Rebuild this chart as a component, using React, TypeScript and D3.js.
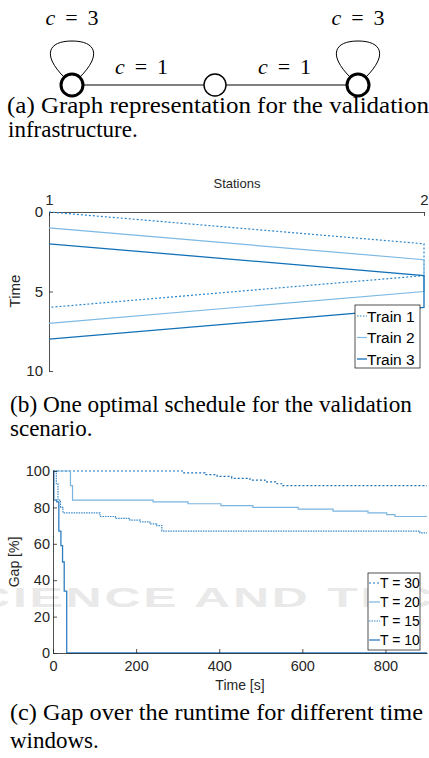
import React, { useEffect, useRef } from "react";
import * as d3 from "d3";

// ---- (a) graph of the validation infrastructure
const graphNodes = ["S1", "M", "S2"];
const graphIsStation = [true, false, true];
const graphEdgeLabels = ["1", "1"];
const loopLabel = "3";

// ---- (b) schedule
const stations = [1, 2];
const timeTicks = [0, 5, 10];
const trainNames = ["Train 1", "Train 2", "Train 3"];
// [station, time]
const train1 = [[1, 0], [2, 2], [2, 4], [1, 6]];
const train2 = [[1, 1], [2, 3], [2, 5], [1, 7]];
const train3 = [[1, 2], [2, 4], [2, 6], [1, 8]];

// ---- (c) gap over runtime
const gapTicksX = [0, 200, 400, 600, 800];
const gapTicksY = [0, 20, 40, 60, 80, 100];
const windowNames = ["T = 30", "T = 20", "T = 15", "T = 10"];
// [time s, gap %] step after
const gapT30 = [[0, 100], [313, 99], [366, 98], [395, 97], [430, 96], [474, 95], [510, 94], [539, 93], [553, 92], [900, 92]];
const gapT20 = [[0, 100], [42, 92], [47, 84], [241, 83], [325, 82], [404, 81], [481, 80], [590, 79], [674, 78], [758, 77], [803, 76], [823, 75], [900, 75]];
const gapT15 = [[0, 100], [8, 93], [12, 84], [18, 80], [24, 77], [113, 75], [150, 74], [185, 73], [210, 72], [233, 71], [250, 70], [262, 67], [883, 66], [900, 66]];
const gapT10 = [[0, 100], [2, 84], [9, 83], [14, 67], [19, 59], [23, 50], [27, 34], [33, 0], [900, 0]];

const AX = "#262626";
const SANS = "'Liberation Sans', Arial, sans-serif";
const SERIF = "'Liberation Serif', 'Times New Roman', serif";

function styleAxis(g, size) {
    g.select(".domain").attr("stroke", AX).attr("stroke-width", 0.8);
    g.selectAll(".tick line").attr("stroke", AX).attr("stroke-width", 0.8);
    g.selectAll(".tick text").attr("fill", AX).attr("font-size", size).attr("font-family", SANS);
}

export default function App() {
    const ref = useRef(null);

    useEffect(() => {
        const svg = d3.select(ref.current);
        svg.selectAll("*").remove();

        svg.append("rect").attr("width", 429).attr("height", 758).attr("fill", "#fff");

        // faint publisher watermark behind chart (c)
        svg.append("text")
            .attr("transform", "translate(-62,607) scale(1.85,1)")
            .attr("letter-spacing", 1.5)
            .attr("font-family", SANS).attr("font-weight", "bold").attr("font-size", 27)
            .attr("fill", "#e9e9e9")
            .text("SCIENCE AND TECHNOLOGY");

        // ================= (a)
        const xa = d3.scalePoint().domain(graphNodes).range([72, 358]);
        const ya = 85;
        const ga = svg.append("g");

        ga.selectAll("line.edge")
            .data(d3.pairs(graphNodes)).enter()
            .append("line")
            .attr("x1", d => xa(d[0])).attr("x2", d => xa(d[1]))
            .attr("y1", ya).attr("y2", ya)
            .attr("stroke", "#000").attr("stroke-width", 1);

        const loops = graphNodes.filter((d, i) => graphIsStation[i]);
        ga.selectAll("path.loop")
            .data(loops).enter()
            .append("path")
            .attr("d", d => {
                const x = xa(d);
                return `M${x - 8},${ya - 8} C${x - 30},${ya - 30} ${x - 24},${ya - 44} ${x},${ya - 44} C${x + 24},${ya - 44} ${x + 30},${ya - 30} ${x + 8},${ya - 8}`;
            })
            .attr("fill", "none").attr("stroke", "#000").attr("stroke-width", 1);

        ga.selectAll("circle")
            .data(graphNodes).enter()
            .append("circle")
            .attr("cx", d => xa(d)).attr("cy", ya).attr("r", 11)
            .attr("fill", "#fff").attr("stroke", "#000")
            .attr("stroke-width", (d, i) => graphIsStation[i] ? 3 : 1.4);

        const cLabel = (x, y, val) => {
            const t = ga.append("text")
                .attr("x", x).attr("y", y)
                .attr("text-anchor", "middle")
                .attr("font-family", SERIF).attr("font-size", 22)
                .attr("textLength", 53).attr("lengthAdjust", "spacing");
            t.append("tspan").attr("font-style", "italic").text("c");
            t.append("tspan").text(" = " + val);
        };
        loops.forEach(d => cLabel(xa(d), 25, loopLabel));
        d3.pairs(graphNodes).forEach((p, i) => cLabel((xa(p[0]) + xa(p[1])) / 2 - 2, 74, graphEdgeLabels[i]));

        const caption = (x, y, s, len) => {
            const t = svg.append("text")
                .attr("x", x).attr("y", y)
                .attr("font-family", SERIF).attr("font-size", 23).attr("fill", "#000")
                .text(s);
            if (len) t.attr("textLength", len).attr("lengthAdjust", "spacingAndGlyphs");
        };
        caption(7, 113, "(a) Graph representation for the validation", 422);
        caption(8, 137, "infrastructure.");

        // ================= (b)
        const xb = d3.scaleLinear().domain([1, 2]).range([49, 424]);
        const yb = d3.scaleLinear().domain([0, 10]).range([212, 371]);
        const gb = svg.append("g");

        const topAx = gb.append("g").attr("transform", "translate(0,212)")
            .call(d3.axisTop(xb).tickValues(stations).tickFormat(d3.format("d")).tickSize(-4).tickSizeOuter(0).tickPadding(7));
        styleAxis(topAx, 15);
        const leftAx = gb.append("g").attr("transform", "translate(49,0)")
            .call(d3.axisLeft(yb).tickValues(timeTicks).tickSize(-4).tickSizeOuter(0).tickPadding(6));
        styleAxis(leftAx, 15);

        gb.append("text").attr("x", 237).attr("y", 188).attr("text-anchor", "middle")
            .attr("font-family", SANS).attr("font-size", 13).attr("fill", AX).text("Stations");
        gb.append("text").attr("transform", "translate(20,291) rotate(-90)").attr("text-anchor", "middle")
            .attr("font-family", SANS).attr("font-size", 15).attr("fill", AX).text("Time");

        const trains = [
            { name: trainNames[0], pts: train1, color: "#2c86cc", dash: "2,2", w: 1.2 },
            { name: trainNames[1], pts: train2, color: "#7cb9e3", dash: null, w: 1.2 },
            { name: trainNames[2], pts: train3, color: "#1170b8", dash: null, w: 1.3 },
        ];
        const lineB = d3.line().x(d => xb(d[0])).y(d => yb(d[1]));
        gb.selectAll("path.train")
            .data(trains).enter()
            .append("path")
            .attr("d", d => lineB(d.pts))
            .attr("fill", "none")
            .attr("stroke", d => d.color)
            .attr("stroke-width", d => d.w)
            .attr("stroke-dasharray", d => d.dash);

        const lb = gb.append("g").attr("transform", "translate(355,305)");
        lb.append("rect").attr("width", 65).attr("height", 63).attr("fill", "#fff").attr("stroke", AX).attr("stroke-width", 0.8);
        trains.forEach((d, i) => {
            const cy = 11 + i * 21.5;
            lb.append("line").attr("x1", 2).attr("x2", 12).attr("y1", cy).attr("y2", cy)
                .attr("stroke", d.color).attr("stroke-width", d.w).attr("stroke-dasharray", d.dash ? "1.5,1.5" : null);
            lb.append("text").attr("x", 12).attr("y", cy + 5.5)
                .attr("font-family", SANS).attr("font-size", 15.5).attr("fill", "#000").text(d.name);
        });

        caption(10, 412, "(b) One optimal schedule for the validation", 402);
        caption(10, 436, "scenario.");

        // ================= (c)
        const xc = d3.scaleLinear().domain([0, 900]).range([53, 427]);
        const yc = d3.scaleLinear().domain([0, 100]).range([653, 471]);
        const gc = svg.append("g");

        const windows = [
            { name: windowNames[0], pts: gapT30, color: "#1f72b8", dash: "2,2", w: 1.2 },
            { name: windowNames[1], pts: gapT20, color: "#7ab5e0", dash: null, w: 1.2 },
            { name: windowNames[2], pts: gapT15, color: "#3a8bcc", dash: "1.5,1", w: 1.2 },
            { name: windowNames[3], pts: gapT10, color: "#2f7fc1", dash: null, w: 1.3 },
        ];
        const lineC = d3.line().x(d => xc(d[0])).y(d => yc(d[1])).curve(d3.curveStepAfter);
        gc.selectAll("path.gap")
            .data(windows).enter()
            .append("path")
            .attr("d", d => lineC(d.pts))
            .attr("fill", "none")
            .attr("stroke", d => d.color)
            .attr("stroke-width", d => d.w)
            .attr("stroke-dasharray", d => d.dash);

        const botAx = gc.append("g").attr("transform", "translate(0,653)")
            .call(d3.axisBottom(xc).tickValues(gapTicksX).tickSize(-4).tickSizeOuter(0).tickPadding(8));
        styleAxis(botAx, 14.5);
        const leftC = gc.append("g").attr("transform", "translate(53,0)")
            .call(d3.axisLeft(yc).tickValues(gapTicksY).tickSize(-4).tickSizeOuter(0).tickPadding(3));
        styleAxis(leftC, 14.5);

        gc.append("text").attr("x", 240).attr("y", 690).attr("text-anchor", "middle")
            .attr("font-family", SANS).attr("font-size", 14).attr("fill", AX).text("Time [s]");
        gc.append("text").attr("transform", "translate(19,562) rotate(-90)").attr("text-anchor", "middle")
            .attr("font-family", SANS).attr("font-size", 14).attr("fill", AX).text("Gap [%]");

        const lc = gc.append("g").attr("transform", "translate(368,573)");
        lc.append("rect").attr("width", 52).attr("height", 77).attr("fill", "#fff").attr("stroke", AX).attr("stroke-width", 0.8);
        windows.forEach((d, i) => {
            const cy = 10 + i * 19;
            lc.append("line").attr("x1", 1).attr("x2", 12).attr("y1", cy).attr("y2", cy)
                .attr("stroke", d.color).attr("stroke-width", d.w).attr("stroke-dasharray", d.dash);
            lc.append("text").attr("x", 12).attr("y", cy + 5)
                .attr("font-family", SANS).attr("font-size", 14).attr("fill", "#000").text(d.name);
        });

        caption(10, 720, "(c) Gap over the runtime for different time", 413);
        caption(10, 748, "windows.");
    }, []);

    return (
        <svg ref={ref} width={429} height={758}
            style={{ position: "absolute", left: 0, top: 0, display: "block" }} />
    );
}
